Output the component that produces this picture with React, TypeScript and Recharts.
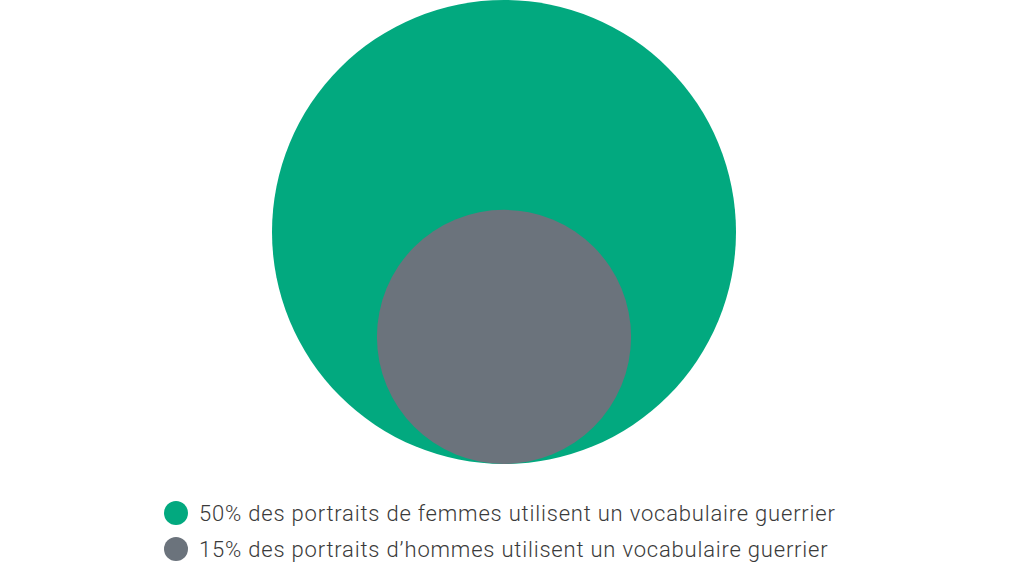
import React from 'react';
import { ScatterChart, Scatter, XAxis, YAxis, ZAxis, Legend } from 'recharts';

const seriesLabels = [
  '50% des portraits de femmes utilisent un vocabulaire guerrier',
  '15% des portraits d\u2019hommes utilisent un vocabulaire guerrier',
];
const seriesValues = [50, 15];
const seriesColors = ['#02a97f', '#6b737c'];

const MAX_RADIUS = 232;

const BubbleShape = (props: any) => {
  const { cx, cy, size, fill } = props;
  const r = Math.sqrt((size || 0) / Math.PI);
  return <circle cx={cx} cy={cy - r} r={r} fill={fill} />;
};

const LegendContent = () => (
  <div style={{ fontFamily: 'Roboto, "Noto Sans", sans-serif' }}>
    {seriesLabels.map((label, i) => (
      <div key={label} style={{ display: 'flex', alignItems: 'center', height: 36 }}>
        <span
          style={{
            display: 'inline-block',
            width: 24,
            height: 24,
            borderRadius: 12,
            background: seriesColors[i],
            marginRight: 11,
            flexShrink: 0,
          }}
        />
        <span
          style={{
            fontSize: 22,
            color: '#3a3a3a',
            fontWeight: 300,
            letterSpacing: 0.8,
            whiteSpace: 'nowrap',
          }}
        >
          {label}
        </span>
      </div>
    ))}
  </div>
);

export default function App() {
  return (
    <div style={{ position: 'absolute', top: 0, left: 0, width: 1024, height: 576, background: '#fff', overflow: 'hidden' }}>
      <ScatterChart width={1024} height={576} margin={{ top: 0, right: 16, bottom: 112, left: 0 }}>
        <XAxis type="number" dataKey="x" domain={[-1, 1]} hide />
        <YAxis type="number" dataKey="y" domain={[0, 1]} hide />
        <ZAxis type="number" dataKey="z" domain={[0, 50]} range={[0, Math.PI * MAX_RADIUS * MAX_RADIUS]} />
        {seriesValues.map((v, i) => (
          <Scatter
            key={i}
            name={seriesLabels[i]}
            data={[{ x: 0, y: 0, z: v }]}
            fill={seriesColors[i]}
            shape={BubbleShape}
            isAnimationActive={false}
          />
        ))}
        <Legend
          layout="vertical"
          align="center"
          verticalAlign="middle"
          content={<LegendContent />}
          wrapperStyle={{ left: 164, top: 495, width: 'auto', height: 'auto' }}
        />
      </ScatterChart>
    </div>
  );
}
